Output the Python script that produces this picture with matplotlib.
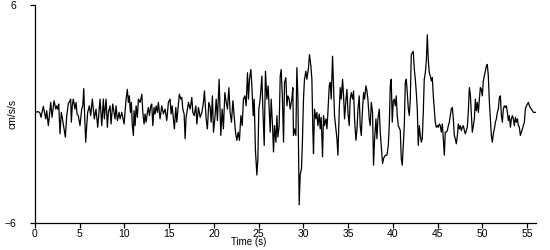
import matplotlib
matplotlib.use('Agg')
import matplotlib.pyplot as plt

# ============================================
# DATA (acceleration trace)
# ============================================

time_s = [
    0.00, 0.37, 0.56, 0.67, 0.93, 1.20, 1.31, 1.49, 1.76, 1.90, 2.13, 2.32, 2.43, 2.54, 2.65,
    2.80, 2.94, 3.10, 3.39, 3.55, 3.72, 3.99, 4.06, 4.17, 4.28, 4.47, 4.59, 4.70, 4.84, 5.03,
    5.22, 5.34, 5.45, 5.56, 5.67, 5.78, 5.89, 6.07, 6.23, 6.41, 6.63, 6.82, 7.01, 7.16, 7.27,
    7.46, 7.64, 7.75, 7.94, 8.09, 8.20, 8.39, 8.50, 8.69, 8.95, 9.06, 9.21, 9.40, 9.51, 9.70,
    9.96, 10.18, 10.32, 10.44, 10.55, 10.66, 10.77, 10.88, 11.00,
    11.07, 11.19, 11.30, 11.44, 11.56, 11.75, 11.94, 12.05, 12.19, 12.30, 12.42, 12.56, 12.67,
    12.79, 12.94, 13.05, 13.17, 13.31, 13.42, 13.54, 13.68, 13.79, 13.98, 14.17, 14.35, 14.54,
    14.73, 14.91, 15.10, 15.21, 15.33, 15.47, 15.58, 15.74, 15.85, 16.03, 16.14, 16.30, 16.41,
    16.52, 16.67, 16.78, 16.89, 17.04, 17.15, 17.34, 17.53, 17.64, 17.79, 17.98, 18.09, 18.27,
    18.46, 18.65, 18.83, 18.94, 19.13, 19.27, 19.43, 19.58, 19.69, 19.83, 19.95, 20.10, 20.25,
    20.39, 20.58, 20.77, 20.92, 21.06, 21.22, 21.37, 21.51, 21.67, 21.81, 21.96, 22.12, 22.26,
    22.41, 22.56, 22.71, 22.85, 23.01, 23.16, 23.30, 23.46, 23.60, 23.75, 23.86, 23.97, 24.13,
    24.24, 24.39, 24.50, 24.64, 24.80, 24.91, 25.02, 25.17, 25.36, 25.47, 25.62, 25.76, 25.92,
    26.06, 26.21,
    26.29, 26.40, 26.55, 26.66, 26.77, 26.93, 27.04, 27.15, 27.29, 27.41, 27.52, 27.66, 27.78,
    27.89, 28.04, 28.16, 28.27, 28.41, 28.52, 28.71, 28.82, 28.89, 29.01, 29.16, 29.27, 29.39,
    29.53, 29.64, 29.79, 29.90, 30.01, 30.12, 30.28, 30.39, 30.57, 30.68, 30.84, 30.95, 31.06,
    31.13, 31.24, 31.40, 31.51, 31.62, 31.77, 31.88, 31.99, 32.14, 32.25, 32.36, 32.52, 32.63,
    32.74, 32.89, 33.00, 33.11, 33.26, 33.37, 33.48, 33.64, 33.75, 33.86, 34.01, 34.12, 34.23,
    34.38, 34.49, 34.60, 34.76, 34.87, 34.98, 35.12, 35.23, 35.35, 35.49, 35.61, 35.72, 35.87,
    35.99, 36.10, 36.24, 36.35, 36.47, 36.61, 36.73, 36.84, 36.99, 37.10, 37.21, 37.36, 37.47,
    37.59, 37.73, 37.84, 37.96, 38.11, 38.22, 38.33, 38.48, 38.59, 38.70, 38.85, 38.96, 39.15,
    39.34, 39.49, 39.60, 39.71, 39.82,
    39.93, 40.05, 40.16, 40.27, 40.38, 40.49, 40.61, 40.83, 40.94, 41.05, 41.17, 41.28, 41.39,
    41.50, 41.61, 41.73, 41.84, 41.95, 42.06, 42.28, 42.40, 42.51, 42.62, 42.73, 42.84, 42.96,
    43.07, 43.18, 43.29, 43.40, 43.51, 43.63, 43.74, 43.85, 43.96, 44.07, 44.19, 44.30, 44.41,
    44.52, 44.63, 44.74, 44.86, 44.97, 45.08, 45.19, 45.30, 45.42, 45.53, 45.64, 45.75, 45.86,
    45.97, 46.09, 46.20, 46.31, 46.42, 46.53, 46.65, 46.76, 46.87, 46.98, 47.09, 47.21, 47.32,
    47.43, 47.54, 47.65, 47.77, 47.88, 47.99, 48.10, 48.21, 48.32, 48.44, 48.55, 48.66, 48.77,
    48.88, 49.00, 49.11, 49.22, 49.33, 49.44, 49.56, 49.67, 49.78, 49.89, 50.00, 50.11, 50.23,
    50.34, 50.45, 50.56, 50.67, 50.79, 50.90, 51.01, 51.12, 51.23, 51.35, 51.46, 51.57, 51.68,
    51.79, 51.91, 52.02, 52.13, 52.24, 52.35, 52.46, 52.58, 52.69, 52.80, 52.91, 53.02, 53.14,
    53.25, 53.36, 53.47, 53.58, 53.70, 53.81, 53.92, 54.03, 54.14, 54.25, 54.37, 54.48, 54.59,
    54.70, 54.81, 54.93, 55.04, 55.15, 55.26, 55.37, 55.48, 55.60, 55.71, 56.00,
]

accel = [
    0.09, 0.13, 0.05, -0.18, 0.42, -0.27, 0.18, -0.64, 0.64, -0.18, 0.73, 0.27, 0.45, 0.27, 0.55,
    -1.09, 0.09, -0.36, -1.27, -0.09, 0.55, 0.82, -0.45, 0.45, 0.82, 0.27, 0.64, 0.00, -0.09, -0.64,
    0.27, 0.45, 1.40, -0.27, -1.55, -0.64, 0.09, 0.45, -0.09, 0.82, -0.27, 0.27, -0.73, 0.18, 0.82,
    -0.64, 0.82, -0.27, 0.82, -0.73, 0.09, 0.45, -0.55, 0.55, -0.27, 0.45, -0.36, 0.09, -0.27, 0.09,
    -0.55, 0.82, 1.36, 0.64, 1.00, 0.09, 0.64, -0.64, -1.18,
    0.18, -0.64, 0.45, -0.18, 0.82, 0.64, 1.09, 0.09, -0.55, 0.00, -0.45, 0.09, 0.36,
    -0.09, 0.45, 0.55, -0.64, 0.36, 0.00, 0.45, 0.09, 0.64, -0.27, 0.45, 0.00, 0.27,
    -0.36, 0.64, 0.82, 0.00, 0.45, -0.27, -0.82, 0.36, -0.45, 0.55, 1.09, 0.82, 0.91,
    0.27, 0.00, -1.36, -0.18, 0.27, 0.64, 0.27, 0.91, 0.09, -0.09, 0.45, -0.55, 0.36,
    -0.18, 0.09, 0.64, 1.27, -0.27, -0.82, 0.64, 0.36, -0.45, 1.00, -1.00, -0.27, 0.82,
    -0.36, 1.91, -1.18, 0.27, -0.82, 1.18, 0.64, 0.27, 1.45, 0.09, -0.45, 0.73, -0.09,
    -1.00, -1.45, -1.00, -1.45, -0.09, -0.64, 0.82, 1.00, 0.45, 2.27, 0.82, 1.91, 2.45,
    1.55, -0.09, 0.82, -2.00, -3.36, -2.45, 0.27, 0.82, 2.09, 0.27, -1.73, 2.36, 0.82,
    1.55, -0.09,
    -1.00, 0.82, -0.64, -2.09, -0.64, -1.55, -0.09, -1.27, -0.64, 2.09, 2.45, 0.82, -1.55,
    1.73, 2.00, 0.45, 1.00, 0.82, 0.27, 0.82, 1.45, -1.18, -0.82, -1.18, 2.55, 0.82,
    -5.00, -3.36, -3.00, -1.36, 0.82, 1.91, 2.36, 1.91, 2.55, 3.27, 2.64, 1.91, -1.00,
    -2.18, 0.27, -0.27, 0.09, -0.64, 0.00, -0.82, -0.18, -2.36, -0.09, -0.64, -0.27, -0.82,
    0.09, 1.55, 1.73, 0.82, 3.18, 1.55, -0.09, -0.82, -1.36, -2.27, 0.27, 1.45, 0.82,
    1.91, 1.00, -0.27, 0.82, 1.36, 0.09, -0.64, 0.82, 1.18, 0.82, 1.27, -0.27, -1.45,
    -0.82, 0.27, 1.00, -0.64, -1.18, 0.27, 1.18, 0.82, 1.55, 1.27, 0.82, -0.27, -0.64,
    0.64, 0.09, -2.82, -1.36, -0.27, -1.36, -0.27, 0.27, -1.00, -1.73, -2.73, -2.45, -2.27,
    -2.27, -1.73, -0.64, 1.55, 1.91,
    -0.45, 0.73, 0.82, 0.45, 1.00, -0.09, -0.64, -0.91, -2.45, -2.82, -1.73, -0.64, 1.73,
    1.91, 1.18, 0.27, -0.09, 0.82, 3.27, 3.45, 2.45, 1.91, 1.18, 0.27, -1.73, -0.64,
    -1.18, -1.55, -1.36, 0.09, 1.91, 2.27, 2.91, 4.36, 3.00, 2.27, 2.09, 1.82, 2.00,
    1.00, 0.27, -0.45, -0.73, -0.64, -0.73, -0.55, -0.64, -1.00, -0.55, -1.36, -2.27, -1.00,
    -1.00, -0.91, -0.64, -0.45, -0.09, 0.27, 0.36, -0.27, -1.18, -1.36, -1.64, -1.18, -0.55,
    -0.82, -0.64, -0.91, -0.73, -0.64, -0.91, -1.09, -0.91, -0.73, 0.18, 1.45, 1.09, 0.09,
    -1.00, -0.64, -0.27, 0.82, 0.18, 0.64, 0.09, 0.82, 1.45, 1.36, 1.00, 1.82, 2.09,
    2.36, 2.64, 2.73, 2.09, 0.64, -0.27, -1.18, -1.55, -1.09, -0.82, -0.45, -0.27, 0.09,
    0.27, 0.91, 1.00, -0.09, -0.45, 0.27, 0.45, 0.36, 0.45, 0.09, -0.36, -0.09, -0.73,
    -0.27, -0.09, -0.27, -0.64, -0.18, -0.45, -0.27, -0.64, -0.73, -1.18, -1.00, -0.82, -0.64,
    -0.45, 0.27, 0.45, 0.55, 0.64, 0.45, 0.36, 0.27, 0.18, 0.09, 0.09,
]

x_ticks = [0, 5, 10, 15, 20, 25, 30, 35, 40, 45, 50, 55]
y_ticks = [-6, 6]

# ============================================
# CHART
# ============================================

plt.rcParams['font.family'] = ['Liberation Sans', 'DejaVu Sans']

fig = plt.figure(figsize=(5.5, 2.5), dpi=100)
ax = fig.add_axes([35 / 550, 27 / 250, 501 / 550, 218 / 250])

ax.plot(time_s, accel, color='black', linewidth=0.9)

ax.set_xlim(0, 56)
ax.set_ylim(-6, 6)
ax.set_xticks(x_ticks)
ax.set_yticks(y_ticks)
ax.tick_params(axis='both', labelsize=7.5, length=3.5, width=0.9, direction='out')
ax.tick_params(axis='y', pad=10)
ax.tick_params(axis='x', pad=0.5)

for side in ['top', 'right']:
    ax.spines[side].set_visible(False)
for side in ['left', 'bottom']:
    ax.spines[side].set_linewidth(0.9)

ax.set_xlabel('Time (s)', fontsize=7)
ax.xaxis.set_label_coords(0.427, -0.066)
ax.set_ylabel('cm/s/s', fontsize=7.5)
ax.yaxis.set_label_coords(-0.034, 0.5)

plt.savefig('out.png', dpi=100)
plt.close()
